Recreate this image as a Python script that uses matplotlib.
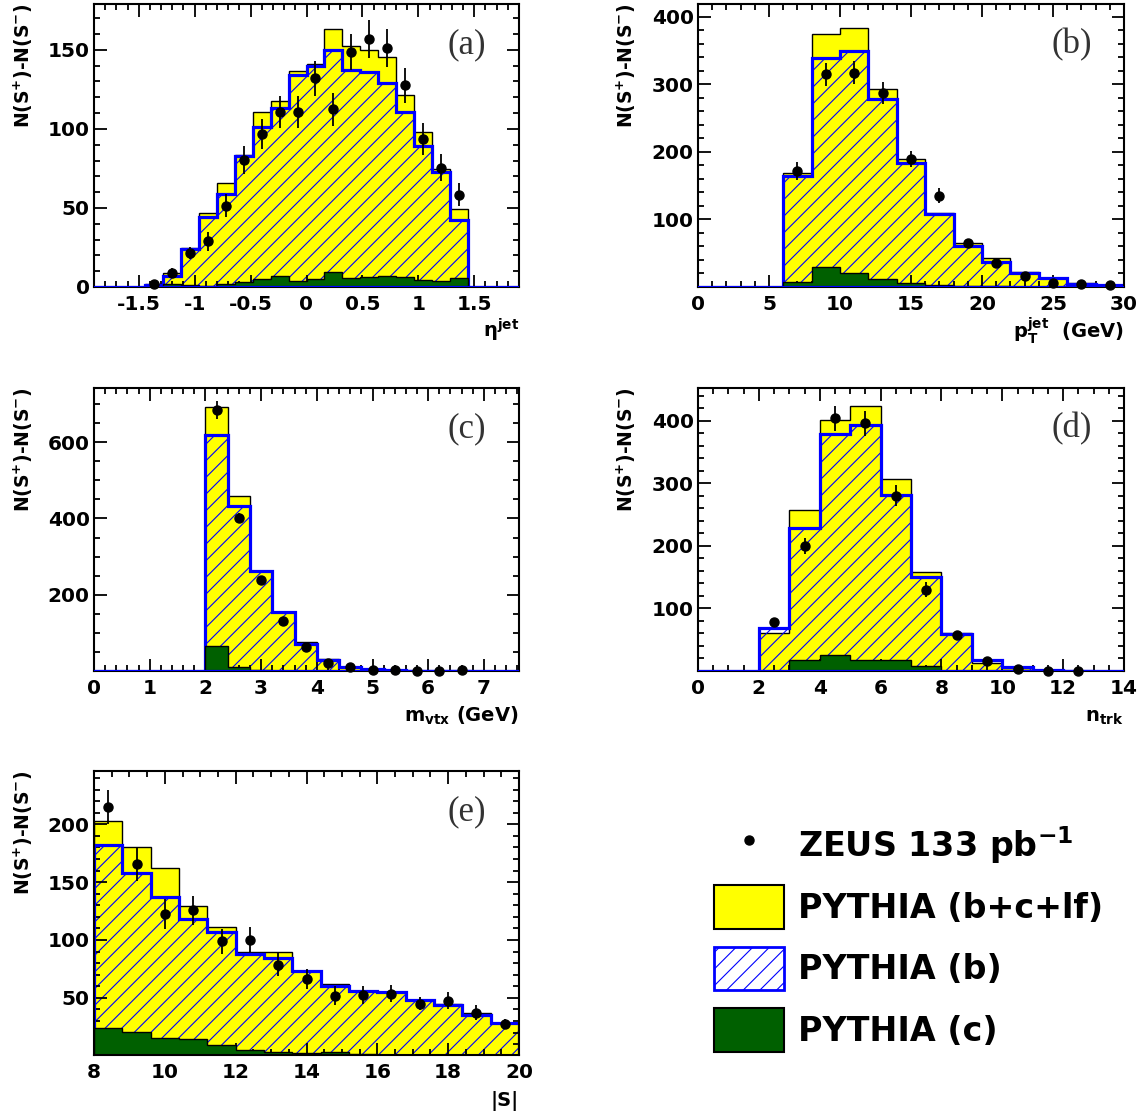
import numpy as np
import matplotlib.pyplot as plt
from matplotlib.ticker import MultipleLocator, FuncFormatter
from matplotlib.patches import Patch
from matplotlib.lines import Line2D

plt.rcParams['font.family'] = ['DejaVu Sans']
plt.rcParams['font.weight'] = 'bold'
plt.rcParams['mathtext.default'] = 'regular'
plt.rcParams['hatch.linewidth'] = 0.8

W, H = 1141, 1119
YLAB = 'N(S$^{+}$)-N(S$^{-}$)'

# (a) eta^jet
eta_edges = np.linspace(-1.44, 1.44, 19)
eta_tot = [2, 9, 24.5, 47, 65.5, 83.5, 111, 117.5, 136.5, 141, 163.5, 152.5, 150, 145.5, 121.5, 98, 74.5, 49.5]
eta_b = [1.5, 7, 24, 44.5, 59, 83, 101.5, 113, 134, 140, 150, 137, 136, 129, 111, 89, 73, 42.5]
eta_c = [0, 2, 1, 0.5, 2, 3, 5, 7, 4, 5, 9.5, 6, 6.5, 7, 6.5, 4.5, 4, 6]
eta_data = [1.7, 9, 21.5, 29, 51.5, 80.5, 96.5, 110.5, 110.5, 132, 112.5, 148.5, 157, 151, 127.5, 93.5, 75.5, 58.5]
eta_err = [2, 3, 4, 6, 7.5, 9, 9.5, 10, 10, 11, 10.5, 11.5, 12, 12, 11, 10, 8.5, 7.5]

# (b) pT^jet
pt_edges = [6, 8, 10, 12, 14, 16, 18, 20, 22, 24, 26, 28, 30]
pt_tot = [169, 374, 383, 293, 189, 110, 65, 43, 22, 13.5, 6.5, 3.5]
pt_b = [164, 339, 350, 278, 184, 108.5, 60, 37, 21, 13.3, 5, 2.5]
pt_c = [7.5, 29.5, 21, 12, 6.5, 2.5, 1.5, 1, 0.5, 0.5, 0.3, 0.3]
pt_data = [172, 315, 317, 287, 189, 135, 65.5, 36, 16.5, 6.5, 5, 3.5]
pt_err = [13.5, 17, 17, 16.5, 12, 11, 5, 4, 3, 2, 2, 2]

# (c) m_vtx
mv_edges = [2.0, 2.4, 2.8, 3.2, 3.6, 4.0, 4.4, 4.8, 5.2, 5.6, 6.0, 6.4, 6.8]
mv_tot = [691, 459, 263, 156, 75, 31, 11.5, 4, 1.5, 1, 0.5, 0.5]
mv_b = [618, 432, 261, 154, 71, 29, 11.5, 4, 1.5, 1, 0.5, 0.5]
mv_c = [66, 11.5, 2.5, 1, 0.5, 0.5, 0.3, 0, 0, 0, 0, 0]
mv_data = [685, 402, 239.5, 131.5, 64, 22, 9.5, 2.5, 2.5, 0, 0, 1.5]
mv_err = [24, 12, 8, 6, 5, 4, 3, 2, 2, 1.5, 1.5, 1.5]

# (d) n_trk
nt_edges = [2, 3, 4, 5, 6, 7, 8, 9, 10, 11, 12, 13]
nt_tot = [61, 257.5, 401.5, 422.5, 306.5, 157.5, 60.5, 13, 4, 1.5, 0.5]
nt_b = [69, 228.5, 378, 393, 281, 149.5, 58.5, 17.5, 7, 1.5, 0]
nt_c = [0, 17.5, 25.5, 17.5, 17.5, 8, 0, 0, 0, 0, 0]
nt_data = [79, 199.5, 404, 396, 280, 130, 57, 16, 2.5, 0, 0]
nt_err = [5, 13, 20, 20, 17, 12, 6, 4, 2, 2, 2]

# (e) |S|
s_edges = [8, 8.8, 9.6, 10.4, 11.2, 12, 12.8, 13.6, 14.4, 15.2, 16, 16.8, 17.6, 18.4, 19.2, 20]
s_tot = [203, 180.5, 162, 129.5, 111.5, 90, 90, 73.6, 62, 56.3, 55, 47.7, 44.8, 36.8, 28.2]
s_b = [182, 157.5, 137, 118.5, 106.5, 88, 84.5, 73.6, 60.5, 56.3, 54.9, 48.3, 43.4, 34.8, 28.2]
s_c = [24, 20.5, 15, 14, 9, 4.5, 3.5, 2.5, 3, 1.5, 1, 1, 0.8, 0.6, 0.5]
s_data = [215, 166, 122.5, 125.5, 99, 100, 78.5, 66.5, 52, 52.5, 53.5, 45, 47.5, 37, 27.5]
s_err = [14.5, 14.7, 12.6, 12.6, 10.8, 10.8, 10, 8.6, 8.6, 7.9, 7.5, 5.7, 7.5, 6.5, 4]

YELLOW = '#ffff00'
BLUE = '#0000ff'
GREEN = '#006000'

fmt_g = FuncFormatter(lambda v, p: f'{v:g}')


def px_rect(l, t, r, b):
    return [l / W, 1 - b / H, (r - l) / W, (b - t) / H]


def draw_panel(ax, edges, tot, bb, cc, data, err, xlim, ylim, xmaj, xmin, ymin,
               yticks, xlabel, tag, baseline=True):
    edges = np.asarray(edges, dtype=float)
    centers = 0.5 * (edges[1:] + edges[:-1])
    ax.stairs(tot, edges, fill=True, facecolor=YELLOW, edgecolor='black', lw=1.0, zorder=1)
    ax.stairs(bb, edges, fill=True, facecolor='none', edgecolor=BLUE, hatch='//', lw=0, zorder=1.5)
    ax.stairs(bb, edges, color=BLUE, lw=2.3, zorder=2)
    if baseline:
        ax.axhline(0, color=BLUE, lw=2.3, zorder=3)
    ax.stairs(cc, edges, fill=True, facecolor=GREEN, edgecolor='black', lw=1.0, zorder=2.2)
    ax.errorbar(centers, data, yerr=err, fmt='o', color='black', ms=6.5,
                elinewidth=1.3, capsize=0, zorder=4, clip_on=False)

    ax.set_xlim(*xlim)
    ax.set_ylim(*ylim)
    ax.xaxis.set_major_locator(MultipleLocator(xmaj))
    ax.xaxis.set_minor_locator(MultipleLocator(xmin))
    ax.xaxis.set_major_formatter(fmt_g)
    ax.set_yticks(yticks)
    ax.yaxis.set_major_formatter(fmt_g)
    ax.yaxis.set_minor_locator(MultipleLocator(ymin))
    ax.tick_params(which='both', direction='in', top=True, right=True, width=1.3)
    ax.tick_params(which='major', length=9, labelsize=14.5)
    ax.tick_params(which='minor', length=4.5)
    ax.tick_params(axis='x', pad=6)
    ax.tick_params(axis='y', pad=3)
    for lab in ax.get_xticklabels() + ax.get_yticklabels():
        lab.set_fontweight('heavy')
    for sp in ax.spines.values():
        sp.set_linewidth(1.5)

    ax.text(-0.167, 1.0, YLAB, rotation=90, ha='center', va='top',
            fontsize=13.5, transform=ax.transAxes)
    ax.text(1.0, -0.18, xlabel, ha='right', va='baseline', fontsize=14,
            transform=ax.transAxes)
    ax.text(0.877, 0.855, tag, ha='center', va='center', fontsize=25,
            family='Liberation Serif', weight='normal', color='#333333',
            transform=ax.transAxes)


fig = plt.figure(figsize=(W / 100, H / 100), dpi=100)

ax_a = fig.add_axes(px_rect(94, 4, 519, 287))
draw_panel(ax_a, eta_edges, eta_tot, eta_b, eta_c, eta_data, eta_err,
           (-1.9, 1.9), (0, 179), 0.5, 0.1, 10, [0, 50, 100, 150],
           r'$\eta^{jet}$', '(a)')

ax_b = fig.add_axes(px_rect(698, 4, 1124, 287))
draw_panel(ax_b, pt_edges, pt_tot, pt_b, pt_c, pt_data, pt_err,
           (0, 30), (0, 419), 5, 1, 20, [100, 200, 300, 400],
           r'$p_{T}^{jet}$  (GeV)', '(b)')

ax_c = fig.add_axes(px_rect(94, 388, 519, 671))
draw_panel(ax_c, mv_edges, mv_tot, mv_b, mv_c, mv_data, mv_err,
           (0, 7.63), (0, 742), 1, 0.2, 50, [200, 400, 600],
           r'$m_{vtx}$ (GeV)', '(c)')

ax_d = fig.add_axes(px_rect(698, 388, 1124, 671))
draw_panel(ax_d, nt_edges, nt_tot, nt_b, nt_c, nt_data, nt_err,
           (0, 14), (0, 452), 2, 0.5, 20, [100, 200, 300, 400],
           r'$n_{trk}$', '(d)')

ax_e = fig.add_axes(px_rect(94, 771, 519, 1055))
draw_panel(ax_e, s_edges, s_tot, s_b, s_c, s_data, s_err,
           (8, 20), (0.6, 246), 2, 0.5, 10, [50, 100, 150, 200],
           '|S|', '(e)', baseline=False)

handles = [
    Line2D([], [], marker='o', color='black', ls='none', ms=6.5),
    Patch(facecolor=YELLOW, edgecolor='black', lw=1.5),
    Patch(facecolor='white', edgecolor=BLUE, hatch='//', lw=2.0),
    Patch(facecolor=GREEN, edgecolor='black', lw=1.5),
]
labels = ['ZEUS 133 pb$^{-1}$', 'PYTHIA (b+c+lf)', 'PYTHIA (b)', 'PYTHIA (c)']
fig.legend(handles, labels, loc='upper left', bbox_to_anchor=(714 / W, 1 - 824 / H),
           frameon=False, fontsize=24, handlelength=2.1, handleheight=1.65,
           handletextpad=0.42, labelspacing=0.52, borderpad=0, borderaxespad=0)

fig.savefig('out.png', dpi=100)
